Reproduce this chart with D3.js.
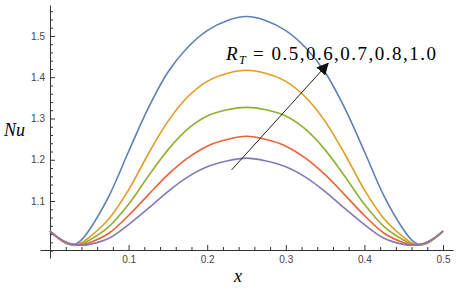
<!DOCTYPE html>
<html lang="en">
<head>
	<meta charset="utf-8">
	<title>Nu vs x</title>
	<script type="text/javascript" src="https://cdn.jsdelivr.net/npm/d3@7"></script>
	<style>
		body { margin: 0; background: #fff; }
	</style>
</head>
<body>
<script type="text/javascript">
var xs = [0, 0.01, 0.02, 0.03, 0.04, 0.05, 0.075, 0.1, 0.125, 0.15, 0.175, 0.2, 0.225, 0.25,
          0.275, 0.3, 0.325, 0.35, 0.375, 0.4, 0.425, 0.45, 0.46, 0.47, 0.48, 0.49, 0.5];

// R_T = 0.5, 0.6, 0.7, 0.8, 1.0
var nuBlue   = [1.027, 1.011, 0.998, 0.994, 1.006, 1.030, 1.112, 1.220, 1.325, 1.412, 1.472, 1.513, 1.537, 1.547,
                1.537, 1.513, 1.472, 1.412, 1.325, 1.220, 1.112, 1.030, 1.006, 0.994, 0.998, 1.011, 1.027];
var nuOrange = [1.027, 1.011, 0.999, 0.994, 0.999, 1.012, 1.057, 1.127, 1.214, 1.293, 1.352, 1.390, 1.409, 1.417,
                1.409, 1.390, 1.352, 1.293, 1.214, 1.127, 1.057, 1.012, 0.999, 0.994, 0.999, 1.011, 1.027];
var nuGreen  = [1.027, 1.011, 1.000, 0.994, 0.996, 1.005, 1.038, 1.092, 1.160, 1.224, 1.274, 1.306, 1.321, 1.327,
                1.321, 1.306, 1.274, 1.224, 1.160, 1.092, 1.038, 1.005, 0.996, 0.994, 1.000, 1.011, 1.027];
var nuRed    = [1.027, 1.011, 1.000, 0.995, 0.994, 0.999, 1.022, 1.065, 1.115, 1.164, 1.204, 1.233, 1.249, 1.257,
                1.249, 1.233, 1.204, 1.164, 1.115, 1.065, 1.022, 0.999, 0.994, 0.995, 1.000, 1.011, 1.027];
var nuPurple = [1.027, 1.012, 1.001, 0.995, 0.993, 0.995, 1.010, 1.043, 1.082, 1.123, 1.158, 1.183, 1.197, 1.204,
                1.197, 1.183, 1.158, 1.123, 1.082, 1.043, 1.010, 0.995, 0.993, 0.995, 1.001, 1.012, 1.027];

var seriesList = [nuBlue, nuOrange, nuGreen, nuRed, nuPurple];
var colors = ["#5e81b5", "#e19c24", "#8fb032", "#eb6235", "#8778b3"];

var xTicks = [0.1, 0.2, 0.3, 0.4, 0.5];
var yTicks = [1.1, 1.2, 1.3, 1.4, 1.5];

var width = 456, height = 290;
var sans = "Liberation Sans, Arial, Helvetica, sans-serif";
var serif = "Liberation Serif, Times New Roman, Times, serif";

var svg = d3.select("body").append("svg")
	.attr("width", width)
	.attr("height", height)
	.style("background", "#fff");

var xScale = d3.scaleLinear().domain([-0.0127, 0.5127]).range([40, 453]);
var yScale = d3.scaleLinear().domain([0.962, 1.575]).range([258, 5]);

// minor ticks every 0.02
var xMinor = d3.range(1, 26).map(function(i){ return +(i * 0.02).toFixed(2); })
	.filter(function(v){ return xTicks.indexOf(v) < 0; });
var yMinor = d3.range(49, 79).map(function(i){ return +(i * 0.02).toFixed(2); })
	.filter(function(v){ return yTicks.indexOf(v) < 0; });

var xAxisY = 250;   // where the x axis crosses
var yAxisX = xScale(0);

svg.append("g")
	.attr("transform", "translate(0," + xAxisY + ")")
	.call(d3.axisBottom(xScale).tickValues(xMinor).tickSize(-3).tickSizeOuter(0).tickFormat(""))
	.call(function(g){ g.select(".domain").remove(); });

svg.append("g")
	.attr("transform", "translate(0," + xAxisY + ")")
	.call(d3.axisBottom(xScale).tickValues(xTicks).tickSize(-5).tickSizeOuter(0).tickPadding(6)
		.tickFormat(d3.format(".1f")));

svg.append("g")
	.attr("transform", "translate(" + yAxisX + ",0)")
	.call(d3.axisLeft(yScale).tickValues(yMinor).tickSize(-3).tickSizeOuter(0).tickFormat(""))
	.call(function(g){ g.select(".domain").remove(); });

svg.append("g")
	.attr("transform", "translate(" + yAxisX + ",0)")
	.call(d3.axisLeft(yScale).tickValues(yTicks).tickSize(-5).tickSizeOuter(0).tickPadding(5)
		.tickFormat(d3.format(".1f")));

svg.selectAll(".domain, .tick line").attr("stroke", "#333");
svg.selectAll(".tick text")
	.attr("font-family", sans).attr("font-size", 10).attr("fill", "#444");

// curves
var line = d3.line()
	.x(function(d){ return xScale(d[0]); })
	.y(function(d){ return yScale(d[1]); })
	.curve(d3.curveCatmullRom.alpha(0.5));

seriesList.forEach(function(vals, i){
	svg.append("path")
		.datum(xs.map(function(x, j){ return [x, vals[j]]; }))
		.attr("d", line)
		.attr("fill", "none")
		.attr("stroke", colors[i])
		.attr("stroke-width", 1.6);
});

// axis titles
svg.append("text")
	.attr("x", 4).attr("y", 136)
	.attr("font-family", serif)
	.attr("font-style", "italic").attr("font-size", 18)
	.text("Nu");

svg.append("text")
	.attr("x", 234).attr("y", 282)
	.attr("font-family", serif)
	.attr("font-style", "italic").attr("font-size", 18)
	.text("x");

// arrow + label
svg.append("defs").append("marker")
	.attr("id", "head")
	.attr("viewBox", "0 0 10 10")
	.attr("refX", 9).attr("refY", 5)
	.attr("markerWidth", 12).attr("markerHeight", 12)
	.attr("markerUnits", "userSpaceOnUse")
	.attr("orient", "auto")
	.append("path").attr("d", "M0,0L10,5L0,10z").attr("fill", "#111");

svg.append("line")
	.attr("x1", 231.5).attr("y1", 170)
	.attr("x2", 328).attr("y2", 63.5)
	.attr("stroke", "#222").attr("stroke-width", 1)
	.attr("marker-end", "url(#head)");

svg.append("text").attr("x", 226).attr("y", 60)
	.attr("font-family", serif).attr("font-style", "italic").attr("font-size", 19)
	.text("R");
svg.append("text").attr("x", 239).attr("y", 64)
	.attr("font-family", serif).attr("font-style", "italic").attr("font-size", 12)
	.text("T");
svg.append("text").attr("x", 253).attr("y", 60)
	.attr("textLength", 183).attr("lengthAdjust", "spacing")
	.attr("font-family", serif).attr("font-size", 19)
	.text("= 0.5,0.6,0.7,0.8,1.0");
</script>
</body>
</html>
